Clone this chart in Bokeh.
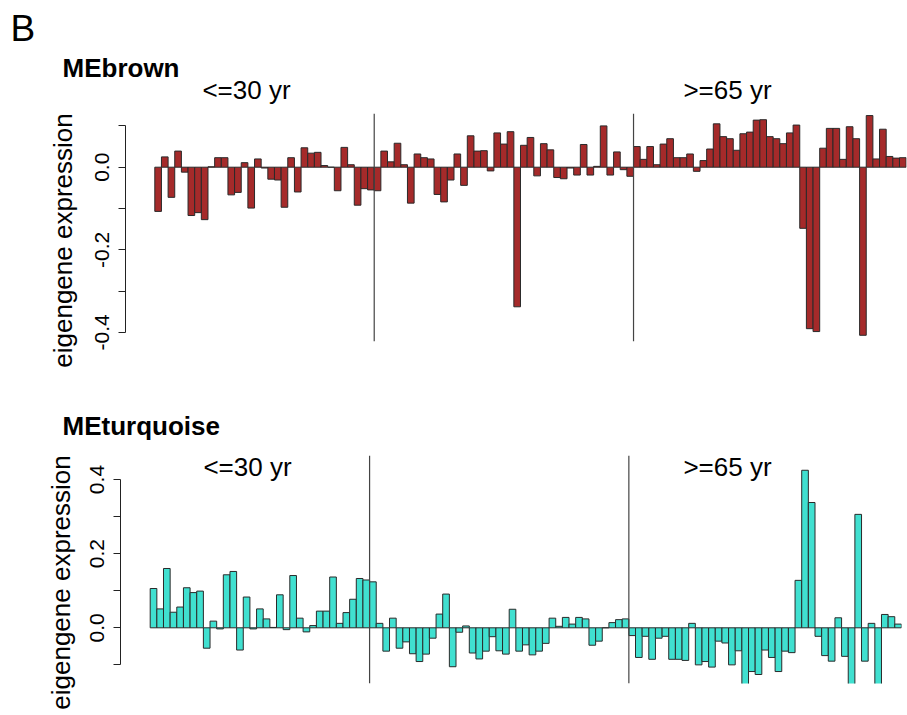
import numpy as np
from bokeh.plotting import figure
from bokeh.models import (Range1d, FixedTicker, Span, Label, ColumnDataSource,
                          PrintfTickFormatter)
from bokeh.layouts import column, row
from bokeh.embed import file_html
from bokeh.resources import INLINE

# ---------------- data ----------------
brown_values = [
    -0.107, 0.025, -0.073, 0.039, -0.012, -0.117, -0.110, -0.127, 0.001, 0.023,
    0.023, -0.067, -0.061, 0.011, -0.099, 0.020, -0.002, -0.029, -0.031, -0.097,
    0.023, -0.060, 0.047, 0.034, 0.036, 0.004, 0.000, -0.057, 0.048, 0.006,
    -0.092, -0.052, -0.055, -0.057, 0.039, 0.013, 0.058, 0.006, -0.087, 0.032,
    0.023, 0.020, -0.066, -0.084, -0.031, 0.032, -0.044, 0.076, 0.039, 0.040,
    -0.009, 0.083, 0.056, 0.086, -0.338, 0.053, 0.072, -0.021, 0.057, 0.042,
    -0.025, -0.028, -0.002, -0.019, 0.055, -0.019, 0.002, 0.100, -0.019, 0.037,
    -0.006, -0.022, 0.050, 0.019, 0.050, 0.006, 0.056, 0.069, 0.023, 0.023,
    0.032, -0.010, 0.016, 0.044, 0.105, 0.074, 0.069, 0.041, 0.081, 0.085,
    0.114, 0.115, 0.074, 0.069, 0.057, 0.083, 0.102, -0.148, -0.391, -0.398,
    0.046, 0.094, 0.094, 0.019, 0.098, 0.069, -0.407, 0.125, 0.020, 0.092,
    0.026, 0.022, 0.023,
]
turquoise_values = [
    0.106, 0.051, 0.160, 0.042, 0.056, 0.108, 0.095, 0.099, -0.055, 0.018,
    -0.003, 0.143, 0.152, -0.060, 0.083, -0.003, 0.051, 0.024, 0.001, 0.089,
    -0.005, 0.141, 0.026, -0.011, 0.006, 0.045, 0.045, 0.137, 0.012, 0.041,
    0.077, 0.133, 0.129, 0.124, 0.012, -0.063, 0.026, -0.055, -0.038, -0.070,
    -0.091, -0.071, -0.028, 0.037, 0.091, -0.105, -0.012, 0.005, -0.068, -0.084,
    -0.063, -0.024, -0.062, -0.071, 0.050, -0.063, -0.046, -0.073, -0.063, -0.042,
    0.026, 0.004, 0.028, 0.010, 0.028, 0.024, -0.047, -0.036, 0.000, 0.014,
    0.022, 0.024, -0.021, -0.080, -0.023, -0.085, -0.028, -0.023, -0.085, -0.085,
    -0.088, 0.012, -0.100, -0.091, -0.106, -0.036, -0.041, -0.100, -0.062, -0.169,
    -0.118, -0.126, -0.060, -0.080, -0.118, -0.063, -0.067, 0.128, 0.425, 0.338,
    -0.023, -0.075, -0.090, 0.027, -0.077, -0.157, 0.306, -0.090, 0.012, -0.170,
    0.036, 0.030, 0.010,
]
group_labels = ["<=30 yr", ">=65 yr"]
group_boundaries = [33, 72]          # sample index after which a group ends
brown_major_ticks = [-0.4, -0.2, 0.0]
brown_minor_ticks = [-0.3, -0.1, 0.1]
turq_major_ticks = [0.0, 0.2, 0.4]
turq_minor_ticks = [-0.1, 0.1, 0.3]
panel_letter = "B"
panel_titles = ["MEbrown", "MEturquoise"]
y_title = "eigengene expression"

FONT = "Liberation Sans"
PAGE_W = 907
TXT = 26          # px size of most texts
BASE_FIX = 0.39   # empirical shift between Label anchor and drawn baseline (em)


def blank_fig(left, top, width, height):
    """A figure without axes whose data coordinates equal page pixels."""
    f = figure(width=width, height=height,
               x_range=Range1d(left, left + width),
               y_range=Range1d(top + height, top),
               x_axis_type=None, y_axis_type=None,
               output_backend="svg", toolbar_location=None,
               min_border=0, min_border_left=0, min_border_right=0,
               min_border_top=0, min_border_bottom=0)
    f.outline_line_color = None
    f.grid.visible = False
    return f


def label_model(txt, x, y, size, align="left", bold=False):
    return Label(x=x, y=y, text=txt, text_font=FONT, text_font_size=f"{size}px",
                 text_align=align, text_baseline="alphabetic",
                 text_font_style="bold" if bold else "normal", text_color="black")


def add_label(f, txt, px, py, size, align="left", bold=False):
    """px, py: wanted page position of the text's baseline anchor."""
    f.add_layout(label_model(txt, px, py - BASE_FIX * size, size, align, bold))


def ylab_fig(width, height, pad_top, pad_bottom, axis_x):
    """Narrow strip whose (tickless) left axis carries the vertical y title."""
    f = figure(frame_width=width - axis_x, frame_height=height - pad_top - pad_bottom,
               x_range=Range1d(0, 1), y_range=Range1d(0, 1),
               x_axis_type=None, output_backend="svg", toolbar_location=None,
               min_border_left=axis_x, min_border_right=0,
               min_border_top=pad_top, min_border_bottom=pad_bottom)
    f.outline_line_color = None
    f.grid.visible = False
    ax = f.yaxis[0]
    ax.ticker = FixedTicker(ticks=[])
    ax.axis_line_color = None
    ax.major_tick_line_color = None
    ax.minor_tick_line_color = None
    ax.major_tick_out = 0
    ax.minor_tick_out = 0
    ax.axis_label = y_title
    ax.axis_label_text_font = FONT
    ax.axis_label_text_font_size = f"{TXT}px"
    ax.axis_label_text_font_style = "normal"
    ax.axis_label_text_color = "black"
    ax.axis_label_standoff = 0
    return f


def bar_panel(values, fill, major, minor, frame, fig_left, fig_top, bar_start, pitch,
              y_zero, y_per_unit, bottom_border, group_pos=None):
    fl, ft, fw, fh = frame  # frame left/top/width/height in page px
    xr0 = -(bar_start - fl) / pitch
    xr1 = xr0 + fw / pitch
    yr1 = (y_zero - ft) / y_per_unit
    yr0 = yr1 - fh / y_per_unit

    p = figure(frame_width=fw, frame_height=fh,
               x_range=Range1d(xr0, xr1), y_range=Range1d(yr0, yr1),
               x_axis_type=None, output_backend="svg", toolbar_location=None,
               min_border_left=fl - fig_left,
               min_border_right=PAGE_W - fl - fw,
               min_border_top=ft - fig_top, min_border_bottom=bottom_border)
    p.outline_line_color = None
    p.ygrid.visible = False

    n = len(values)
    src = ColumnDataSource(dict(x=np.arange(n) + 0.5, top=values))
    p.vbar(x="x", top="top", bottom=0, width=1, source=src,
           fill_color=fill, line_color="#2a2a2a", line_width=1)

    for b in group_boundaries:
        p.add_layout(Span(location=b, dimension="height",
                          line_color="#444444", line_width=1.2))

    ax = p.yaxis[0]
    ax.ticker = FixedTicker(ticks=major, minor_ticks=minor)
    ax.formatter = PrintfTickFormatter(format="%.1f")
    ax.bounds = (min(major + minor), max(major + minor))
    ax.axis_line_color = "#222222"
    ax.major_tick_line_color = "#222222"
    ax.minor_tick_line_color = "#222222"
    ax.major_tick_in = 0
    ax.major_tick_out = 7
    ax.minor_tick_in = 0
    ax.minor_tick_out = 7
    ax.major_label_orientation = "vertical"
    ax.major_label_text_font = FONT
    ax.major_label_text_font_size = "21px"
    ax.major_label_text_color = "black"
    ax.major_label_standoff = 9

    if group_pos:
        for lbl, (px, py) in zip(group_labels, group_pos):
            x = xr0 + (px - fl) / pitch
            y = yr1 - (py - BASE_FIX * TXT - ft) / y_per_unit
            p.add_layout(label_model(lbl, x, y, TXT, align="center"))
    return p


# ---------------- top panel (MEbrown) ----------------
head1 = blank_fig(0, 0, PAGE_W, 108)
add_label(head1, panel_letter, 10, 42, 37)
add_label(head1, panel_titles[0], 62, 78, TXT, bold=True)
add_label(head1, group_labels[0], 246, 100, TXT, align="center")
add_label(head1, group_labels[1], 727, 100, TXT, align="center")

# strip 108..372, title centred at y = 240
ylab1 = ylab_fig(80, 264, pad_top=5, pad_bottom=5, axis_x=77)

main1 = bar_panel(brown_values, "#A52A2A", brown_major_ticks, brown_minor_ticks,
                  frame=(125, 112, 781, 228), fig_left=80, fig_top=108,
                  bar_start=154.3, pitch=6.649,
                  y_zero=165.7, y_per_unit=413.0, bottom_border=32)

# ---------------- bottom panel (MEturquoise) ----------------
head2 = blank_fig(0, 372, PAGE_W, 73)
add_label(head2, panel_titles[1], 62, 436, TXT, bold=True)

# strip 445..713, title centred at y = 579
ylab2 = ylab_fig(78, 268, pad_top=7, pad_bottom=7, axis_x=75)

main2 = bar_panel(turquoise_values, "#40E0D0", turq_major_ticks, turq_minor_ticks,
                  frame=(120, 455, 781, 228), fig_left=78, fig_top=445,
                  bar_start=149.7, pitch=6.648,
                  y_zero=627.3, y_per_unit=370.7, bottom_border=30,
                  group_pos=[(247, 477), (727, 477)])

layout = column(head1, row(ylab1, main1, spacing=0), head2, row(ylab2, main2, spacing=0),
                spacing=0)
open("out.html", "w").write(file_html(layout, INLINE))
